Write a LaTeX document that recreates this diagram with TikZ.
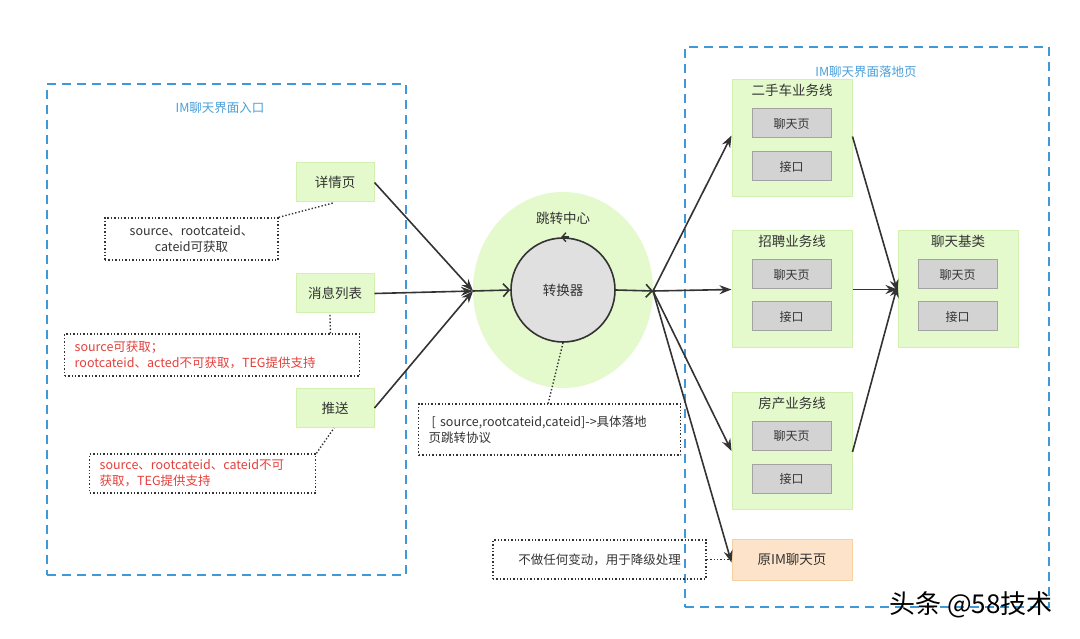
\documentclass[tikz,border=0pt]{standalone}
\usepackage{fontspec}
\setmainfont{Noto Sans CJK SC}
\usetikzlibrary{arrows.meta,shapes.geometric}
\definecolor{frameblue}{HTML}{3D9AD6}
\definecolor{lblblue}{HTML}{4A9FDA}
\definecolor{gfill}{HTML}{E4F9CC}
\definecolor{gdraw}{HTML}{D2F0B0}
\definecolor{grayfill}{HTML}{D3D3D3}
\definecolor{graydraw}{HTML}{A3A3A3}
\definecolor{ofill}{HTML}{FDE3C9}
\definecolor{odraw}{HTML}{F6CFA3}
\definecolor{notered}{HTML}{E5403B}
\definecolor{txt}{HTML}{333333}
\definecolor{circgray}{HTML}{E0E0E0}
\tikzset{
  frame/.style={draw=frameblue, line width=1.3pt, dash pattern=on 9pt off 6pt, rectangle, inner sep=0pt},
  entry/.style={draw=gdraw, fill=gfill, line width=1pt, minimum width=78pt, minimum height=39pt, inner sep=0pt, text=txt, font=\fontsize{13.5}{16}\selectfont},
  container/.style={draw=gdraw, fill=gfill, line width=1pt, minimum width=120pt, minimum height=117pt, inner sep=0pt},
  ctitle/.style={text=txt, font=\fontsize{13.5}{16}\selectfont, inner sep=0pt},
  sub/.style={draw=graydraw, fill=grayfill, line width=1pt, minimum width=79pt, minimum height=29pt, inner sep=0pt, text=txt, font=\fontsize{12}{15}\selectfont},
  note/.style={draw=txt, line width=1.4pt, dotted, inner ysep=0pt, inner xsep=10pt, text=txt, font=\fontsize{12.5}{16}\selectfont},
  link/.style={draw=txt, line width=1.4pt, dotted},
  conn/.style={draw=txt, line width=1.6pt, -{Stealth[length=12pt,width=9pt]}},
  openarr/.style={draw=txt, line width=1.6pt, -{Straight Barb[length=6pt,width=13pt]}},
  flabel/.style={text=lblblue, font=\fontsize{12.5}{15}\selectfont, inner sep=0pt}
}
\begin{document}
\begin{tikzpicture}[x=1pt,y=-1pt]
\useasboundingbox (0,0) rectangle (1080,639);
\fill[white] (0,0) rectangle (1080,639);
% frames
\node[frame, minimum width=359pt, minimum height=491pt] (leftframe) at (226.5,329.5) {};
\node[flabel] (leftlabel) at (220,108) {IM聊天界面入口};
\node[frame, minimum width=364pt, minimum height=560pt] (rightframe) at (867,327) {};
\node[flabel] (rightlabel) at (866,72) {IM聊天界面落地页};
% left entries
\node[entry] (detail) at (335,182.5) {详情页};
\node[entry] (msg) at (335,293.5) {消息列表};
\node[entry] (push) at (335,408) {推送};
% notes left
\node[note, minimum width=173pt, minimum height=42pt, align=center] (n1) at (191.5,239) {source、rootcateid、\\cateid可获取};
\node[note, minimum width=295pt, minimum height=42pt, align=left, text=notered, anchor=west, text width=275pt] (n2) at (64,355) {source可获取；\\rootcateid、acted不可获取，TEG提供支持};
\node[note, minimum width=226pt, minimum height=39pt, align=left, text=notered, anchor=west, text width=206pt] (n3) at (89,473.5) {source、rootcateid、cateid不可\\获取，TEG提供支持};
\coordinate (d1) at (333,203);
\coordinate (d2) at (330,314);
\coordinate (d3) at (334,428);
\draw[link] (n1.north east) -- (d1);
\draw[link] ([xshift=-30pt]n2.north east) -- (d2);
\draw[link] (n3.north east) -- (d3);
% jump center
\node[draw=none, fill=gfill, ellipse, minimum width=180pt, minimum height=196pt, inner sep=0pt] (center) at (563,290) {};
\node[ctitle] (centert) at (563,218) {跳转中心};
\node[draw=txt, line width=1.6pt, fill=circgray, circle, minimum size=104pt, inner sep=0pt, text=txt, font=\fontsize{13.5}{16}\selectfont] (conv) at (563,290) {转换器};
\draw[txt, line width=1.4pt, -{Straight Barb[length=4pt,width=9pt]}] ([xshift=6pt]conv.north) -- ([xshift=-2pt]conv.north);
\coordinate (hubL) at (473,291);
\coordinate (hubR) at (653,291);
\draw[conn] (detail.east) -- (hubL);
\draw[conn] (msg.east) -- (hubL);
\draw[conn] (push.east) -- (hubL);
\draw[openarr] (hubL) -- (conv.west);
\draw[openarr] (conv.east) -- (hubR);
\node[note, minimum width=262pt, minimum height=51pt, align=left, anchor=west, text width=242pt] (n4) at (418,429.5) {\hspace*{3pt}[ source,rootcateid,cateid]->具体落地\\页跳转协议};
\coordinate (d4) at (548,404);
\draw[link] (conv.south) -- (d4);
% right containers
\node[container] (ershou) at (792,138.5) {};
\node[ctitle] (ershout) at (792,90) {二手车业务线};
\node[sub] (ershouchat) at (791.5,123.5) {聊天页};
\node[sub] (ershouapi) at (791.5,166.5) {接口};
\node[container] (zhaopin) at (792,289.5) {};
\node[ctitle] (zhaopint) at (792,241) {招聘业务线};
\node[sub] (zhaopinchat) at (791.5,274.5) {聊天页};
\node[sub] (zhaopinapi) at (791.5,316.5) {接口};
\node[container] (base) at (958,289.5) {};
\node[ctitle] (baset) at (958,241) {聊天基类};
\node[sub] (basechat) at (957.5,274.5) {聊天页};
\node[sub] (baseapi) at (957.5,316.5) {接口};
\node[container] (fangchan) at (792,451) {};
\node[ctitle] (fangchant) at (792,403) {房产业务线};
\node[sub] (fangchanchat) at (791.5,435.5) {聊天页};
\node[sub] (fangchanapi) at (791.5,478.5) {接口};
\node[draw=odraw, fill=ofill, line width=1pt, minimum width=120pt, minimum height=41pt, inner sep=0pt, text=txt, font=\fontsize{13.5}{16}\selectfont] (orig) at (792,559.5) {原IM聊天页};
\node[note, minimum width=213pt, minimum height=39pt] (n5) at (599.5,559.5) {不做任何变动，用于降级处理};
\draw[link] (n5.east) -- (orig.west);
% right arrows
\draw[conn] (hubR) -- ([yshift=3pt]ershou.west);
\draw[conn] (hubR) -- (zhaopin.west);
\draw[conn] (hubR) -- (fangchan.west);
\draw[conn] (hubR) -- ([yshift=-3pt]orig.west);
\draw[conn] ([yshift=2pt]ershou.east) -- ([yshift=-2pt]base.west);
\draw[conn] (zhaopin.east) -- (base.west);
\draw[conn] ([yshift=-1pt]fangchan.east) -- ([yshift=4pt]base.west);
% watermark
\node[text=black, font=\fontsize{26}{30}\selectfont, inner sep=0pt] (wm) at (971,605) {头条 @58技术};
\end{tikzpicture}
\end{document}
